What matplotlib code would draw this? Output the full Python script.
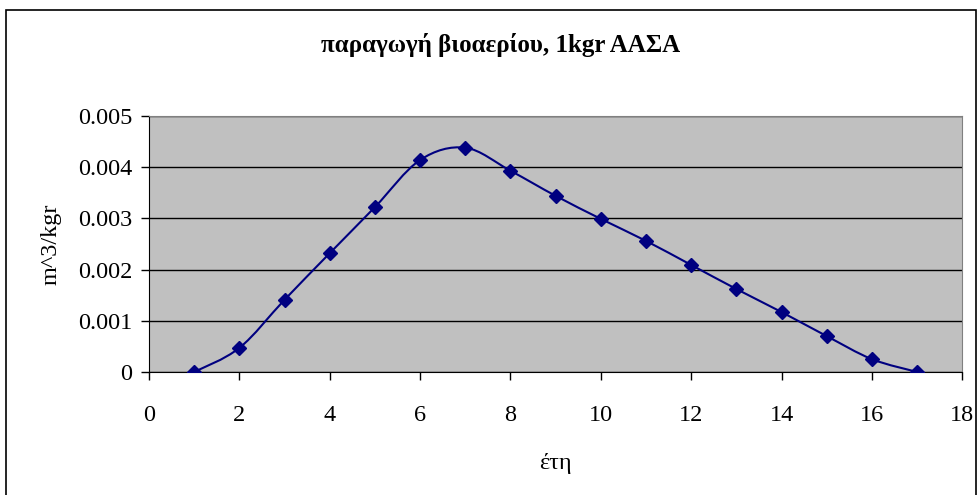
import numpy as np
import matplotlib.pyplot as plt
from matplotlib.path import Path
from matplotlib.patches import PathPatch

years = [1, 2, 3, 4, 5, 6, 7, 8, 9, 10, 11, 12, 13, 14, 15, 16, 17]
biogas = [0.0, 0.00047, 0.00141, 0.00232, 0.00322, 0.00414, 0.00438, 0.00393,
          0.00344, 0.00299, 0.00256, 0.00209, 0.00162, 0.00117, 0.0007, 0.00025, 0.0]

title = "παραγωγή βιοαερίου, 1kgr ΑΑΣΑ"
xlabel = "έτη"
ylabel = "m^3/kgr"

plt.rcParams['font.family'] = ['Liberation Serif', 'DejaVu Serif']

fig = plt.figure(figsize=(9.8, 4.95), dpi=100)
ax = fig.add_axes([0.152, 0.2485, 0.830, 0.5172])
fig.patches.append(plt.Rectangle((0.006, -0.01), 0.99, 0.99, transform=fig.transFigure,
                                 fill=False, edgecolor='black', linewidth=1.2))

ax.set_facecolor('#c0c0c0')

# smoothed line (Excel style bezier through the points)
x = np.array(years, dtype=float)
y = np.array(biogas)
verts = [(x[0], y[0])]
codes = [Path.MOVETO]
n = len(x)
for i in range(n - 1):
    p0 = (x[max(i - 1, 0)], y[max(i - 1, 0)])
    p1 = (x[i], y[i])
    p2 = (x[i + 1], y[i + 1])
    p3 = (x[min(i + 2, n - 1)], y[min(i + 2, n - 1)])
    c1 = (p1[0] + (p2[0] - p0[0]) / 6, p1[1] + (p2[1] - p0[1]) / 6)
    c2 = (p2[0] - (p3[0] - p1[0]) / 6, p2[1] - (p3[1] - p1[1]) / 6)
    verts += [c1, c2, p2]
    codes += [Path.CURVE4] * 3
ax.add_patch(PathPatch(Path(verts, codes), facecolor='none', edgecolor='#000080',
                       linewidth=1.5, zorder=3))
ax.plot(years, biogas, linestyle='none', marker='D', markersize=7,
        color='#000080', zorder=4)

ax.set_xlim(0, 18)
ax.set_ylim(0, 0.005)
ax.set_xticks(range(0, 19, 2))
ax.set_yticks([0, 0.001, 0.002, 0.003, 0.004, 0.005])
ax.set_yticklabels(['0', '0.001', '0.002', '0.003', '0.004', '0.005'])
ax.yaxis.grid(True, color='black', linewidth=1)
ax.set_axisbelow(True)
ax.tick_params(labelsize=17.5, length=6, width=1, direction='out', pad=6)
ax.tick_params(axis='x', pad=18)

for s in ['top', 'right']:
    ax.spines[s].set_color('#808080')
for s in ['left', 'bottom']:
    ax.spines[s].set_color('black')

fig.text(0.511, 0.909, title, fontsize=18, fontweight='bold', ha='center', va='center')
ax.set_xlabel(xlabel, fontsize=17.5, labelpad=19)
ax.set_ylabel(ylabel, fontsize=17.5, labelpad=12)

fig.savefig('out.png', dpi=100)
